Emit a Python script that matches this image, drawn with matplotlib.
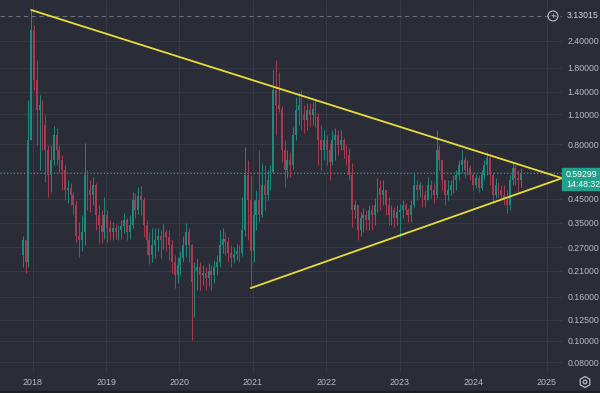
import numpy as np
import pandas as pd
import matplotlib
matplotlib.use("Agg")
import matplotlib.pyplot as plt
import matplotlib.dates as mdates
from matplotlib.ticker import FixedLocator, NullLocator
from matplotlib.patches import RegularPolygon, Circle, Rectangle
from matplotlib.transforms import IdentityTransform

# two-week candles, first one starts 2017-11-13
first_date = "2017-11-13"
first_open = 0.248
closes = [
    0.29, 0.230, 0.84, 2.69,  # 2017
    1.58, 1.15, 1.21, 0.98, 0.755, 0.58, 0.68, 0.885, 0.755, 0.68, 0.61, 0.495, 0.504,
    0.47, 0.42, 0.305, 0.29, 0.318, 0.58, 0.495, 0.47, 0.52, 0.38, 0.34, 0.318, 0.38,  # 2018
    0.329, 0.318, 0.329, 0.318, 0.325, 0.336, 0.36, 0.318, 0.34, 0.445, 0.40, 0.465, 0.445,
    0.34, 0.29, 0.248, 0.275, 0.29, 0.305, 0.29, 0.318, 0.302, 0.275, 0.230, 0.20, 0.223,  # 2019
    0.240, 0.275, 0.318, 0.275, 0.186, 0.21, 0.218, 0.20, 0.206, 0.194, 0.21, 0.20, 0.218,
    0.230, 0.275, 0.295, 0.284, 0.255, 0.240, 0.25, 0.26, 0.255, 0.325, 0.58, 0.445, 0.26,  # 2020
    0.38, 0.445, 0.38, 0.52, 0.47, 0.55, 0.597, 1.42, 1.21, 1.17, 0.755, 0.61, 0.68,
    0.645, 0.885, 1.15, 1.21, 1.09, 1.035, 1.15, 1.09, 1.17, 1.067, 0.84, 0.755, 0.84,  # 2021
    0.755, 0.666, 0.84, 0.885, 0.795, 0.84, 0.755, 0.715, 0.58, 0.40, 0.42, 0.325, 0.368,
    0.38, 0.36, 0.40, 0.38, 0.42, 0.504, 0.47, 0.495, 0.42, 0.38, 0.40, 0.368, 0.392,  # 2022
    0.40, 0.42, 0.40, 0.38, 0.42, 0.52, 0.495, 0.52, 0.47, 0.445, 0.52, 0.495, 0.47,
    0.755, 0.68, 0.55, 0.47, 0.495, 0.52, 0.55, 0.58, 0.645, 0.68, 0.61, 0.625, 0.58,  # 2023
    0.52, 0.562, 0.504, 0.58, 0.645, 0.693, 0.58, 0.47, 0.52, 0.495, 0.47, 0.445, 0.42,
    0.55, 0.625, 0.562, 0.55, 0.59299,  # 2024
]
highs = [
    0.305, 0.29, 1.28, 3.32,
    2.84, 1.96, 1.35, 1.28, 1.09, 0.795, 0.795, 0.97, 0.95, 0.795, 0.715, 0.645, 0.55,
    0.533, 0.485, 0.445, 0.352, 0.38, 0.814, 0.61, 0.55, 0.568, 0.533, 0.42, 0.40, 0.46,
    0.40, 0.36, 0.352, 0.345, 0.34, 0.36, 0.388, 0.368, 0.38, 0.485, 0.48, 0.509, 0.515,
    0.46, 0.36, 0.318, 0.329, 0.329, 0.329, 0.325, 0.345, 0.325, 0.325, 0.29, 0.248, 0.243,
    0.26, 0.305, 0.349, 0.33, 0.28, 0.230, 0.240, 0.230, 0.223, 0.218, 0.228, 0.223, 0.235,
    0.248, 0.325, 0.329, 0.318, 0.299, 0.275, 0.269, 0.278, 0.275, 0.46, 0.778, 0.68, 0.58,
    0.445, 0.495, 0.755, 0.659, 0.645, 0.61, 0.645, 1.76, 1.96, 1.72, 1.2, 0.84, 0.755,
    0.739, 0.959, 1.32, 1.39, 1.42, 1.21, 1.24, 1.24, 1.253, 1.28, 1.114, 0.98, 0.93,
    0.885, 0.814, 0.93, 0.95, 0.93, 0.93, 0.858, 0.795, 0.77, 0.659, 0.445, 0.42, 0.392,
    0.407, 0.40, 0.42, 0.42, 0.455, 0.562, 0.55, 0.55, 0.495, 0.46, 0.42, 0.411, 0.42,
    0.427, 0.445, 0.431, 0.407, 0.445, 0.591, 0.55, 0.538, 0.52, 0.495, 0.568, 0.55, 0.533,
    0.93, 0.795, 0.68, 0.55, 0.55, 0.55, 0.58, 0.61, 0.68, 0.755, 0.70, 0.68, 0.645,
    0.597, 0.585, 0.58, 0.61, 0.68, 0.739, 0.72, 0.597, 0.562, 0.538, 0.52, 0.52, 0.495,
    0.58, 0.659, 0.645, 0.61, 0.625,
]
lows = [
    0.218, 0.206, 0.218, 0.84,
    1.42, 0.795, 0.61, 0.755, 0.538, 0.46, 0.485, 0.645, 0.645, 0.597, 0.495, 0.445, 0.431,
    0.42, 0.38, 0.284, 0.243, 0.26, 0.275, 0.40, 0.392, 0.42, 0.325, 0.281, 0.281, 0.295,
    0.284, 0.29, 0.29, 0.295, 0.29, 0.295, 0.315, 0.29, 0.295, 0.329, 0.368, 0.383, 0.38,
    0.299, 0.248, 0.225, 0.230, 0.240, 0.26, 0.240, 0.266, 0.26, 0.235, 0.206, 0.176, 0.184,
    0.20, 0.230, 0.243, 0.230, 0.101, 0.129, 0.171, 0.171, 0.18, 0.171, 0.178, 0.171, 0.184,
    0.20, 0.218, 0.255, 0.248, 0.230, 0.218, 0.228, 0.235, 0.230, 0.245, 0.305, 0.29, 0.175,
    0.230, 0.325, 0.352, 0.372, 0.40, 0.445, 0.495, 0.591, 0.885, 1.126, 0.666, 0.509, 0.562,
    0.568, 0.62, 0.84, 0.98, 0.93, 0.90, 0.93, 0.959, 0.98, 0.959, 0.645, 0.61, 0.68,
    0.645, 0.55, 0.645, 0.68, 0.715, 0.755, 0.693, 0.645, 0.55, 0.333, 0.368, 0.29, 0.305,
    0.318, 0.325, 0.325, 0.325, 0.34, 0.392, 0.40, 0.42, 0.38, 0.34, 0.34, 0.333, 0.34,
    0.299, 0.368, 0.38, 0.352, 0.352, 0.411, 0.445, 0.46, 0.411, 0.411, 0.445, 0.455, 0.431,
    0.455, 0.61, 0.495, 0.42, 0.445, 0.47, 0.48, 0.495, 0.55, 0.597, 0.562, 0.58, 0.55,
    0.495, 0.504, 0.485, 0.495, 0.55, 0.58, 0.52, 0.431, 0.455, 0.46, 0.455, 0.42, 0.388,
    0.40, 0.52, 0.52, 0.485, 0.509,
]

upper_line_dates = ["2017-12-25", "2025-03-18"]
upper_line_prices = [3.32, 0.56]
lower_line_dates = ["2020-12-21", "2025-03-18"]
lower_line_prices = [0.175, 0.56]

price_ticks = [2.4, 1.8, 1.4, 1.1, 0.8, 0.6, 0.45, 0.35, 0.27, 0.21, 0.16, 0.125, 0.1, 0.08]
years = [2018, 2019, 2020, 2021, 2022, 2023, 2024, 2025]
last_price = 0.59299
cross_price = 3.13015

BG = "#2a2d38"
GRID = "#353944"
TXT = "#b8bbc4"
UP = "#1f8a7c"
DOWN = "#a93a50"

plt.rcParams["font.family"] = "Liberation Sans"

fig = plt.figure(figsize=(6, 3.93), dpi=100, facecolor=BG)
ax = fig.add_axes([0, 21 / 393, 562 / 600, 372 / 393], facecolor=BG)

closes = np.array(closes)
opens = np.concatenate([[first_open], closes[:-1]])
highs = np.array(highs)
lows = np.array(lows)
dates = pd.date_range(first_date, periods=len(closes), freq="14D")
x = mdates.date2num(dates)

colors = np.where(closes >= opens, UP, DOWN)
ax.vlines(x, lows, highs, colors=colors, linewidth=0.7, zorder=3)
ax.bar(x, np.abs(closes - opens), bottom=np.minimum(opens, closes), width=9,
       color=colors, linewidth=0, zorder=3)

for d, p in [(upper_line_dates, upper_line_prices), (lower_line_dates, lower_line_prices)]:
    ax.plot(mdates.date2num(pd.to_datetime(d)), p, color="#e8dc3a", lw=1.3, zorder=4,
            solid_capstyle="round")

ax.axhline(cross_price, color="#6b6f7a", lw=0.8, ls=(0, (4, 3)), zorder=2)
ax.axhline(last_price, color="#26a69a", lw=0.8, ls=(0, (1, 2)), zorder=2)

ax.set_yscale("log")
ax.set_ylim(0.0720, 3.69)
ax.set_xlim(mdates.date2num(pd.Timestamp("2017-07-23")),
            mdates.date2num(pd.Timestamp("2025-03-18")))

ax.yaxis.tick_right()
ax.yaxis.set_major_locator(FixedLocator(price_ticks))
ax.yaxis.set_minor_locator(NullLocator())
# the 0.60 label sits under the last-price box
ax.set_yticklabels(["" if v == 0.6 else f"{v:.5f}" for v in price_ticks])
ax.set_xticks(mdates.date2num(pd.to_datetime([f"{y}-01-01" for y in years])))
ax.set_xticklabels([str(y) for y in years])
ax.tick_params(axis="y", length=0, pad=4, labelsize=6.3, labelcolor=TXT)
ax.tick_params(axis="x", length=0, pad=4, labelsize=6.4, labelcolor=TXT)
ax.grid(color=GRID, lw=0.8, zorder=0)
for s in ax.spines.values():
    s.set_visible(False)

# crosshair price label and the little add button
fig.text(567 / 600, 1 - 16 / 393, f"{cross_price:.5f}", color="#d1d4dc", fontsize=6.3,
         va="center", ha="left")
fig.add_artist(Circle((553, 393 - 16), 5, fill=False, ec=TXT, lw=0.8,
                      transform=IdentityTransform()))
fig.text(553 / 600, 1 - 16 / 393, "+", color=TXT, fontsize=6.5, ha="center",
         va="center")

# last price box
fig.add_artist(Rectangle((562 / 600, (393 - 190) / 393), 38 / 600, 22 / 393,
                         transform=fig.transFigure, color="#22a08b", zorder=5))
fig.text(566 / 600, 1 - 174 / 393, f"{last_price:.5f}", color="white", fontsize=6.3,
         va="center", ha="left", zorder=6)
fig.text(566 / 600, 1 - 184.5 / 393, "14:48:32", color="white", fontsize=6.3,
         va="center", ha="left", zorder=6)

# settings gear
fig.add_artist(RegularPolygon((585, 393 - 382), 6, radius=5.5, fill=False, ec=TXT, lw=0.9,
                              transform=IdentityTransform()))
fig.add_artist(Circle((585, 393 - 382), 1.8, fill=False, ec=TXT, lw=0.9,
                      transform=IdentityTransform()))

fig.add_artist(Rectangle((0, 0), 1, 2 / 393, transform=fig.transFigure, color="#1c1e26"))

fig.savefig("out.png", dpi=100, facecolor=BG)
